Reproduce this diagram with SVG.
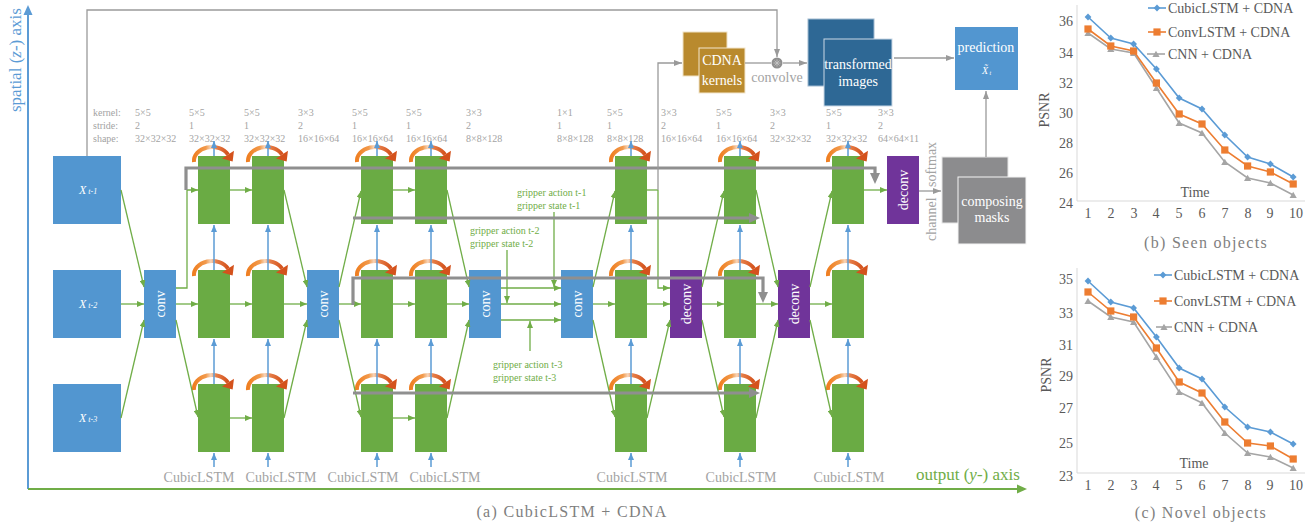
<svg xmlns="http://www.w3.org/2000/svg" width="1310" height="523" viewBox="0 0 1310 523" font-family="'Liberation Serif', 'DejaVu Serif', 'Noto Serif', serif">
<style>
svg text, svg tspan{font-family:"Liberation Serif","DejaVu Serif","Noto Serif",serif}
.cell{fill:#6aab44}
.blk{fill:#5296d0}
.pur{fill:#70349a}
.lbl{fill:#fff;font-size:14px}
.meta{fill:#a3a3a3;font-size:10px}
.cub{fill:#a3a3a3;font-size:14px;text-anchor:middle}
.grip{fill:#70ad47;font-size:10px}
.gl{stroke:#70ad47;stroke-width:1.3;fill:none;marker-end:url(#ag)}
.gn{stroke:#70ad47;stroke-width:1.3;fill:none}
.bl{stroke:#5b9bd5;stroke-width:1.5;fill:none;marker-end:url(#ab)}
.kt{stroke:#8f8f8f;stroke-width:3.2;fill:none}
.ka{marker-end:url(#ak)}
.kn{stroke:#9a9a9a;stroke-width:1.3;fill:none}
.kl{stroke:#9a9a9a;stroke-width:1.3;fill:none;marker-end:url(#akn)}
.ax{stroke:#d9d9d9;stroke-width:1;fill:none}
.tk{fill:#595959;font-size:14px}
.cap{fill:#7f7f7f;font-size:16px;letter-spacing:1.3px}
.s1{stroke:#5b9bd5;stroke-width:1.6;fill:none;marker-start:url(#md);marker-mid:url(#md);marker-end:url(#md)}
.s2{stroke:#ed7d31;stroke-width:1.6;fill:none;marker-start:url(#ms);marker-mid:url(#ms);marker-end:url(#ms)}
.s3{stroke:#a5a5a5;stroke-width:1.6;fill:none;marker-start:url(#mt);marker-mid:url(#mt);marker-end:url(#mt)}
.l1{stroke:#5b9bd5;stroke-width:1.6;fill:none;marker-mid:url(#md)}
.l2{stroke:#ed7d31;stroke-width:1.6;fill:none;marker-mid:url(#ms)}
.l3{stroke:#a5a5a5;stroke-width:1.6;fill:none;marker-mid:url(#mt)}
</style>
<defs>
  <marker id="ag" markerUnits="userSpaceOnUse" markerWidth="7" markerHeight="6" refX="7" refY="3" orient="auto"><path d="M0,0 L7,3 L0,6 z" fill="#70ad47"/></marker>
  <marker id="ab" markerUnits="userSpaceOnUse" markerWidth="7" markerHeight="6" refX="7" refY="3" orient="auto"><path d="M0,0 L7,3 L0,6 z" fill="#5b9bd5"/></marker>
  <marker id="ak" markerUnits="userSpaceOnUse" markerWidth="11" markerHeight="10" refX="6" refY="5" orient="auto"><path d="M0,0 L11,5 L0,10 z" fill="#8f8f8f"/></marker>
  <marker id="akn" markerUnits="userSpaceOnUse" markerWidth="8" markerHeight="6" refX="8" refY="3" orient="auto"><path d="M0,0 L8,3 L0,6 z" fill="#9a9a9a"/></marker>
  <marker id="md" markerUnits="userSpaceOnUse" markerWidth="8" markerHeight="8" refX="4" refY="4"><path d="M4,0.6 L7.4,4 L4,7.4 L0.6,4 z" fill="#5b9bd5"/></marker>
  <marker id="ms" markerUnits="userSpaceOnUse" markerWidth="8" markerHeight="8" refX="4" refY="4"><rect x="0.4" y="0.4" width="7.2" height="7.2" fill="#ed7d31"/></marker>
  <marker id="mt" markerUnits="userSpaceOnUse" markerWidth="8" markerHeight="8" refX="4" refY="4"><path d="M4,0.8 L7.6,7 L0.4,7 z" fill="#a5a5a5"/></marker>
  <linearGradient id="og" x1="0" y1="0" x2="1" y2="0">
    <stop offset="0" stop-color="#ef7f22"/>
    <stop offset="0.35" stop-color="#f29a4c"/>
    <stop offset="0.5" stop-color="#f7d6bb"/>
    <stop offset="0.65" stop-color="#e67e48"/>
    <stop offset="1" stop-color="#d4521c"/>
  </linearGradient>
  <!-- recurrent loop arrow drawn over each CubicLSTM cell (origin = cell top-left) -->
  <g id="loop">
    <path d="M-4,6 A18,14 0 0 1 30,-1.4" fill="none" stroke="url(#og)" stroke-width="4"/>
    <path d="M36,-5.2 L24,2.6 L34.6,5.4 z" fill="#d4521c"/>
  </g>
  <rect id="c" width="32" height="68" class="cell"/>
</defs>

<!-- axes -->
<g id="axes">
  <path d="M28,489 V14" stroke="#5b9bd5" stroke-width="2" fill="none"/>
  <path d="M23.5,15 L28,5 L32.5,15 z" fill="#5b9bd5"/>
  <path d="M28,489 H1018" stroke="#70ad47" stroke-width="2" fill="none"/>
  <path d="M1017,484.5 L1027,489 L1017,493.5 z" fill="#70ad47"/>
  <text transform="translate(21,112) rotate(-90)" fill="#5b9bd5" font-size="17">spatial (<tspan font-style="italic">z</tspan>-) axis</text>
  <text x="916" y="480" fill="#70ad47" font-size="17">output (<tspan font-style="italic">y</tspan>-) axis</text>
</g>

<!-- layer parameter table -->
<g id="params" class="meta">
  <text x="93" y="116">kernel:</text><text x="93" y="129">stride:</text><text x="93" y="142">shape:</text>
  <text x="135" y="116">5×5</text><text x="135" y="129">2</text><text x="135" y="142">32×32×32</text>
  <text x="189" y="116">5×5</text><text x="189" y="129">1</text><text x="189" y="142">32×32×32</text>
  <text x="244" y="116">5×5</text><text x="244" y="129">1</text><text x="244" y="142">32×32×32</text>
  <text x="298" y="116">3×3</text><text x="298" y="129">2</text><text x="298" y="142">16×16×64</text>
  <text x="352" y="116">5×5</text><text x="352" y="129">1</text><text x="352" y="142">16×16×64</text>
  <text x="406" y="116">5×5</text><text x="406" y="129">1</text><text x="406" y="142">16×16×64</text>
  <text x="466" y="116">3×3</text><text x="466" y="129">2</text><text x="466" y="142">8×8×128</text>
  <text x="557" y="116">1×1</text><text x="557" y="129">1</text><text x="557" y="142">8×8×128</text>
  <text x="607" y="116">5×5</text><text x="607" y="129">1</text><text x="607" y="142">8×8×128</text>
  <text x="661" y="116">3×3</text><text x="661" y="129">2</text><text x="661" y="142">16×16×64</text>
  <text x="716" y="116">5×5</text><text x="716" y="129">1</text><text x="716" y="142">16×16×64</text>
  <text x="770" y="116">3×3</text><text x="770" y="129">2</text><text x="770" y="142">32×32×32</text>
  <text x="826" y="116">5×5</text><text x="826" y="129">1</text><text x="826" y="142">32×32×32</text>
  <text x="878" y="116">3×3</text><text x="878" y="129">2</text><text x="878" y="142">64×64×11</text>
</g>

<!-- input frames -->
<g id="x1"><rect x="53" y="156" width="68" height="68" class="blk"/><text x="79" y="194" fill="#fff" font-size="12" font-style="italic">X<tspan font-size="8" dx="2">t-1</tspan></text></g>
<g id="x2"><rect x="53" y="270" width="68" height="68" class="blk"/><text x="79" y="308" fill="#fff" font-size="12" font-style="italic">X<tspan font-size="8" dx="2">t-2</tspan></text></g>
<g id="x3"><rect x="53" y="384" width="68" height="68" class="blk"/><text x="79" y="422" fill="#fff" font-size="12" font-style="italic">X<tspan font-size="8" dx="2">t-3</tspan></text></g>

<!-- conv / deconv layers -->
<g id="conv1"><rect x="144" y="270" width="32" height="68" class="blk"/><text class="lbl" text-anchor="middle" transform="translate(165,304) rotate(-90)">conv</text></g>
<g id="conv2"><rect x="307" y="270" width="32" height="68" class="blk"/><text class="lbl" text-anchor="middle" transform="translate(328,304) rotate(-90)">conv</text></g>
<g id="conv3"><rect x="469" y="270" width="32" height="68" class="blk"/><text class="lbl" text-anchor="middle" transform="translate(490,304) rotate(-90)">conv</text></g>
<g id="conv4"><rect x="561" y="270" width="32" height="68" class="blk"/><text class="lbl" text-anchor="middle" transform="translate(582,304) rotate(-90)">conv</text></g>
<g id="deconv1"><rect x="670" y="270" width="32" height="68" class="pur"/><text class="lbl" text-anchor="middle" transform="translate(691,304) rotate(-90)">deconv</text></g>
<g id="deconv2"><rect x="778" y="270" width="32" height="68" class="pur"/><text class="lbl" text-anchor="middle" transform="translate(799,304) rotate(-90)">deconv</text></g>
<g id="deconv3"><rect x="887" y="156" width="32" height="68" class="pur"/><text class="lbl" text-anchor="middle" transform="translate(908,190) rotate(-90)">deconv</text></g>

<!-- CubicLSTM cells: columns 1-7, rows top/middle/bottom -->
<g id="cells">
  <g id="cell-1-t"><use href="#c" x="198" y="156"/><use href="#loop" x="198" y="156"/></g>
  <g id="cell-1-m"><use href="#c" x="198" y="270"/><use href="#loop" x="198" y="270"/></g>
  <g id="cell-1-b"><use href="#c" x="198" y="384"/><use href="#loop" x="198" y="384"/></g>
  <g id="cell-2-t"><use href="#c" x="252" y="156"/><use href="#loop" x="252" y="156"/></g>
  <g id="cell-2-m"><use href="#c" x="252" y="270"/><use href="#loop" x="252" y="270"/></g>
  <g id="cell-2-b"><use href="#c" x="252" y="384"/><use href="#loop" x="252" y="384"/></g>
  <g id="cell-3-t"><use href="#c" x="361" y="156"/><use href="#loop" x="361" y="156"/></g>
  <g id="cell-3-m"><use href="#c" x="361" y="270"/><use href="#loop" x="361" y="270"/></g>
  <g id="cell-3-b"><use href="#c" x="361" y="384"/><use href="#loop" x="361" y="384"/></g>
  <g id="cell-4-t"><use href="#c" x="415" y="156"/><use href="#loop" x="415" y="156"/></g>
  <g id="cell-4-m"><use href="#c" x="415" y="270"/><use href="#loop" x="415" y="270"/></g>
  <g id="cell-4-b"><use href="#c" x="415" y="384"/><use href="#loop" x="415" y="384"/></g>
  <g id="cell-5-t"><use href="#c" x="615" y="156"/><use href="#loop" x="615" y="156"/></g>
  <g id="cell-5-m"><use href="#c" x="615" y="270"/><use href="#loop" x="615" y="270"/></g>
  <g id="cell-5-b"><use href="#c" x="615" y="384"/><use href="#loop" x="615" y="384"/></g>
  <g id="cell-6-t"><use href="#c" x="724" y="156"/><use href="#loop" x="724" y="156"/></g>
  <g id="cell-6-m"><use href="#c" x="724" y="270"/><use href="#loop" x="724" y="270"/></g>
  <g id="cell-6-b"><use href="#c" x="724" y="384"/><use href="#loop" x="724" y="384"/></g>
  <g id="cell-7-t"><use href="#c" x="832" y="156"/><use href="#loop" x="832" y="156"/></g>
  <g id="cell-7-m"><use href="#c" x="832" y="270"/><use href="#loop" x="832" y="270"/></g>
  <g id="cell-7-b"><use href="#c" x="832" y="384"/><use href="#loop" x="832" y="384"/></g>
</g>

<!-- CDNA branch -->
<g id="cdna">
  <rect x="683" y="32" width="44" height="44" fill="#b98a2e" stroke="#f0e2c4" stroke-width="1"/>
  <rect x="699" y="48" width="46" height="45" fill="#b98a2e" stroke="#f3e6cc" stroke-width="1"/>
  <text class="lbl" x="722" y="65" text-anchor="middle">CDNA</text>
  <text class="lbl" x="722" y="85" text-anchor="middle">kernels</text>
</g>
<g id="convolve">
  <circle cx="777" cy="63" r="5.5" fill="#8f8f8f"/>
  <path d="M773.5,63 H780.5 M777,59.5 V66.5 M774.5,60.5 L779.5,65.5 M779.5,60.5 L774.5,65.5" stroke="#c8c8c8" stroke-width="0.8"/>
  <text x="777" y="82" fill="#a3a3a3" font-size="14" text-anchor="middle">convolve</text>
</g>
<g id="transformed">
  <rect x="808" y="19" width="66" height="67" fill="#2e6895" stroke="#9fb9d0" stroke-width="1"/>
  <rect x="824" y="39" width="68" height="67" fill="#2e6895" stroke="#c9d8e6" stroke-width="1"/>
  <text class="lbl" x="858" y="69" text-anchor="middle">transformed</text>
  <text class="lbl" x="858" y="86" text-anchor="middle">images</text>
</g>
<g id="prediction">
  <rect x="955" y="27" width="63" height="63" class="blk"/>
  <text class="lbl" x="986" y="52" text-anchor="middle">prediction</text>
  <text x="982" y="74" fill="#fff" font-size="10" font-style="italic">X̃<tspan font-size="6" dx="1.5" dy="1">t</tspan></text>
</g>
<g id="masks">
  <rect x="942" y="157" width="66" height="66" fill="#8c8c8e" stroke="#e6e6e6" stroke-width="1"/>
  <rect x="958" y="177" width="68" height="67" fill="#8c8c8e" stroke="#f4f4f4" stroke-width="1"/>
  <text class="lbl" x="992" y="206" text-anchor="middle">composing</text>
  <text class="lbl" x="992" y="222" text-anchor="middle">masks</text>
</g>
<g id="softmax-label" fill="#a3a3a3" font-size="14">
  <text transform="translate(936,187) rotate(-90)">softmax</text>
  <text transform="translate(936,241) rotate(-90)">channel</text>
</g>

<!-- connectors -->
<g id="connectors">
  <!-- top row -->
  <path class="gl" d="M121,190 L144,287"/>
  <path class="gl" d="M176,288 H187 V190 H198"/>
  <path class="gl" d="M230,190 H252"/>
  <path class="gl" d="M284,190 L307,287"/>
  <path class="gl" d="M339,287 L361,191"/>
  <path class="gl" d="M393,190 H415"/>
  <path class="gl" d="M447,190 L469,287"/>
  <path class="gl" d="M593,287 L615,191"/>
  <path class="gn" d="M647,190 H658"/>
  <path class="gl" d="M658,190 V288 H670"/>
  <path class="gl" d="M702,287 L724,191"/>
  <path class="gl" d="M756,190 L778,287"/>
  <path class="gl" d="M810,287 L832,191"/>
  <path class="gl" d="M864,190 H887"/>
  <!-- middle row -->
  <path class="gl" d="M121,304 H144"/>
  <path class="gl" d="M176,304 H198"/>
  <path class="gl" d="M230,304 H252"/>
  <path class="gl" d="M284,304 H307"/>
  <path class="gl" d="M339,304 H361"/>
  <path class="gl" d="M393,304 H415"/>
  <path class="gl" d="M447,304 H469"/>
  <path class="gl" d="M501,304 H561"/>
  <path class="gl" d="M501,288 H561"/>
  <path class="gl" d="M501,320 H561"/>
  <path class="gl" d="M593,304 H615"/>
  <path class="gl" d="M647,304 H670"/>
  <path class="gl" d="M702,304 H724"/>
  <path class="gl" d="M756,304 H778"/>
  <path class="gl" d="M810,304 H832"/>
  <!-- bottom row -->
  <path class="gl" d="M121,418 L144,320"/>
  <path class="gl" d="M176,320 L198,417"/>
  <path class="gl" d="M230,418 H252"/>
  <path class="gl" d="M284,418 L307,320"/>
  <path class="gl" d="M339,320 L361,417"/>
  <path class="gl" d="M393,418 H415"/>
  <path class="gl" d="M447,418 L469,320"/>
  <path class="gl" d="M593,320 L615,417"/>
  <path class="gl" d="M647,418 L670,320"/>
  <path class="gl" d="M702,320 L724,417"/>
  <path class="gl" d="M756,418 L778,320"/>
  <path class="gl" d="M810,320 L832,417"/>
  <!-- gripper inputs -->
  <path class="gl" d="M554,212 V287"/>
  <path class="gl" d="M507,250 V303"/>
  <path class="gl" d="M530,351 V321"/>

  <!-- vertical (spatial) flow through the cells -->
  <g id="spatial-flow">
    <path class="bl" d="M214,156 V141"/><path class="bl" d="M214,270 V225"/><path class="bl" d="M214,384 V339"/><path class="bl" d="M214,467 V453"/>
    <path class="bl" d="M268,156 V141"/><path class="bl" d="M268,270 V225"/><path class="bl" d="M268,384 V339"/><path class="bl" d="M268,467 V453"/>
    <path class="bl" d="M377,156 V141"/><path class="bl" d="M377,270 V225"/><path class="bl" d="M377,384 V339"/><path class="bl" d="M377,467 V453"/>
    <path class="bl" d="M431,156 V141"/><path class="bl" d="M431,270 V225"/><path class="bl" d="M431,384 V339"/><path class="bl" d="M431,467 V453"/>
    <path class="bl" d="M631,156 V141"/><path class="bl" d="M631,270 V225"/><path class="bl" d="M631,384 V339"/><path class="bl" d="M631,467 V453"/>
    <path class="bl" d="M740,156 V141"/><path class="bl" d="M740,270 V225"/><path class="bl" d="M740,384 V339"/><path class="bl" d="M740,467 V453"/>
    <path class="bl" d="M848,156 V141"/><path class="bl" d="M848,270 V225"/><path class="bl" d="M848,384 V339"/><path class="bl" d="M848,467 V453"/>
  </g>

  <!-- skip connections -->
  <path class="kt ka" d="M186,190 V168 H875 V179"/>
  <path class="kt ka" d="M353,218 H755"/>
  <path class="kt ka" d="M353,305 V278 H763 V298"/>
  <path class="kt ka" d="M353,393 H755"/>

  <!-- CDNA / mask path -->
  <path class="kl" d="M87,156 V10 H777 V57"/>
  <path class="kl" d="M658,190 V63 H682"/>
  <path class="kn" d="M745,63 H771"/>
  <path class="kl" d="M783,63 H807"/>
  <path class="kl" d="M894,58 H954"/>
  <path class="kl" d="M919,191 H941"/>
  <path class="kl" d="M986,157 V91"/>
</g>

<!-- gripper labels -->
<g id="gripper" class="grip">
  <text x="517" y="196">gripper action t-1</text><text x="517" y="209">gripper state t-1</text>
  <text x="470" y="234">gripper action t-2</text><text x="470" y="247">gripper state t-2</text>
  <text x="493" y="368">gripper action t-3</text><text x="493" y="381">gripper state t-3</text>
</g>

<!-- cell names -->
<g id="cell-names" class="cub">
  <text x="199" y="482">CubicLSTM</text>
  <text x="281" y="482">CubicLSTM</text>
  <text x="363" y="482">CubicLSTM</text>
  <text x="445" y="482">CubicLSTM</text>
  <text x="632" y="482">CubicLSTM</text>
  <text x="741" y="482">CubicLSTM</text>
  <text x="849" y="482">CubicLSTM</text>
</g>
<text class="cap" x="572" y="517" text-anchor="middle" font-size="16.5">(a)  CubicLSTM + CDNA</text>

<!-- chart (b): seen objects -->
<g id="chart-seen">
  <path class="ax" d="M1077,5 V201 H1305"/>
  <g class="tk" text-anchor="end">
    <text x="1073" y="26">36</text><text x="1073" y="58">34</text><text x="1073" y="88">32</text><text x="1073" y="118">30</text><text x="1073" y="148">28</text><text x="1073" y="178">26</text><text x="1073" y="208">24</text>
  </g>
  <g class="tk" text-anchor="middle">
    <text x="1088" y="218">1</text><text x="1111" y="218">2</text><text x="1134" y="218">3</text><text x="1156" y="218">4</text><text x="1179" y="218">5</text><text x="1202" y="218">6</text><text x="1225" y="218">7</text><text x="1248" y="218">8</text><text x="1270" y="218">9</text><text x="1296" y="218">10</text>
  </g>
  <polyline class="s3" points="1088,33 1110.8,49 1133.6,53 1156.4,88 1179.2,123 1202,133 1224.8,162 1247.6,178 1270.4,183 1293.2,195"/>
  <polyline class="s2" points="1088,29 1110.8,46 1133.6,51 1156.4,83 1179.2,114 1202,124 1224.8,150 1247.6,166 1270.4,172 1293.2,184"/>
  <polyline class="s1" points="1088,17 1110.8,38 1133.6,44 1156.4,69 1179.2,98 1202,109 1224.8,135 1247.6,157 1270.4,164 1293.2,177"/>
  <path class="l1" d="M1148,8 H1157 H1166"/>
  <path class="l2" d="M1148,32 H1157 H1166"/>
  <path class="l3" d="M1147,54 H1156 H1165"/>
  <g class="tk"><text x="1168" y="13">CubicLSTM + CDNA</text><text x="1168" y="37">ConvLSTM + CDNA</text><text x="1168" y="59">CNN + CDNA</text></g>
  <text class="tk" font-size="13" text-anchor="middle" transform="translate(1049,110) rotate(-90)">PSNR</text>
  <text class="tk" font-size="13" x="1195" y="197" text-anchor="middle">Time</text>
  <text class="cap" x="1206" y="248" text-anchor="middle">(b)  Seen objects</text>
</g>

<!-- chart (c): novel objects -->
<g id="chart-novel">
  <path class="ax" d="M1077,268 V473 H1305"/>
  <g class="tk" text-anchor="end">
    <text x="1073" y="284">35</text><text x="1073" y="318">33</text><text x="1073" y="350">31</text><text x="1073" y="381">29</text><text x="1073" y="413">27</text><text x="1073" y="448">25</text><text x="1073" y="481">23</text>
  </g>
  <g class="tk" text-anchor="middle">
    <text x="1088" y="490">1</text><text x="1111" y="490">2</text><text x="1134" y="490">3</text><text x="1156" y="490">4</text><text x="1179" y="490">5</text><text x="1202" y="490">6</text><text x="1225" y="490">7</text><text x="1248" y="490">8</text><text x="1270" y="490">9</text><text x="1296" y="490">10</text>
  </g>
  <polyline class="s3" points="1088,301 1110.8,317 1133.6,322 1156.4,357 1179.2,392 1202,403 1224.8,433 1247.6,453 1270.4,457 1293.2,468"/>
  <polyline class="s2" points="1088,292 1110.8,311 1133.6,317 1156.4,348 1179.2,382 1202,393 1224.8,422 1247.6,443 1270.4,446 1293.2,459"/>
  <polyline class="s1" points="1088,281 1110.8,302 1133.6,308 1156.4,337 1179.2,368 1202,379 1224.8,407 1247.6,427 1270.4,432 1293.2,444"/>
  <path class="l1" d="M1154,275 H1163 H1172"/>
  <path class="l2" d="M1154,301 H1163 H1172"/>
  <path class="l3" d="M1156,327 H1164 H1172"/>
  <g class="tk"><text x="1174" y="280">CubicLSTM + CDNA</text><text x="1174" y="306">ConvLSTM + CDNA</text><text x="1174" y="332">CNN + CDNA</text></g>
  <text class="tk" font-size="13" text-anchor="middle" transform="translate(1051,375) rotate(-90)">PSNR</text>
  <text class="tk" font-size="13" x="1194" y="468" text-anchor="middle">Time</text>
  <text class="cap" x="1201" y="518" text-anchor="middle">(c)  Novel objects</text>
</g>
</svg>
